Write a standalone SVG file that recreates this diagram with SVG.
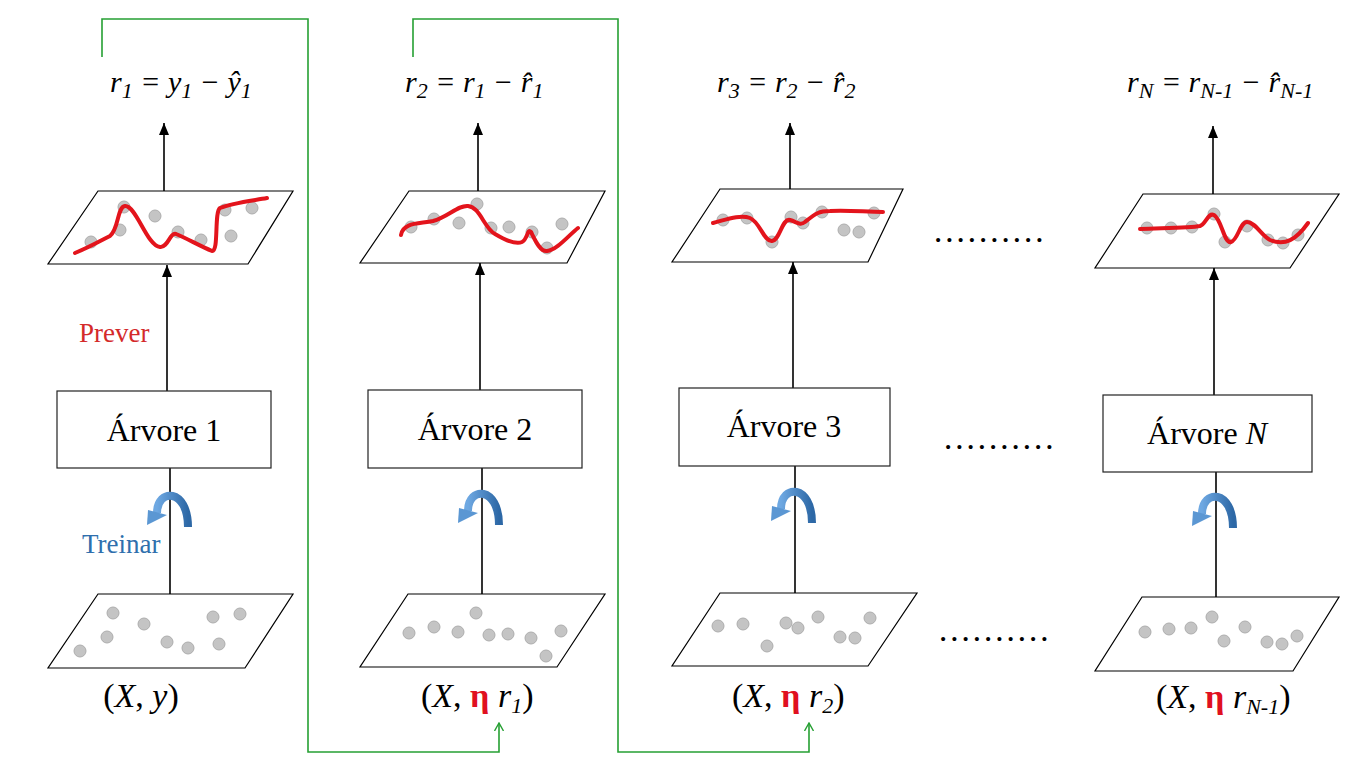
<svg xmlns="http://www.w3.org/2000/svg" width="1365" height="768" viewBox="0 0 1365 768">
<defs>
<style>
.para{fill:#fff;stroke:#000;stroke-width:1.2}
.box{fill:#fff;stroke:#222;stroke-width:1.2}
.ln{stroke:#000;stroke-width:1.6;fill:none}
.ar{stroke:#000;stroke-width:1.6;fill:none;marker-end:url(#ah)}
.dot{fill:#c4c4c4;stroke:#adadad;stroke-width:1}
.fit{fill:none;stroke:#e3141c;stroke-width:4;stroke-linecap:round;stroke-linejoin:round}
.f{font-family:"Liberation Serif","Times New Roman",serif;font-style:italic;font-size:30px;fill:#000}
.sub{font-size:22px}
.bt{font-family:"Liberation Serif","Times New Roman",serif;font-size:32px;fill:#000;text-anchor:middle}
.lbl{font-family:"Liberation Serif","Times New Roman",serif;font-size:34px;fill:#000}
.eta{font-style:normal;font-weight:bold;fill:#e01020}
.dots{font-family:"Liberation Serif",serif;font-size:25px;font-weight:bold;fill:#000;letter-spacing:5px}
.grn{stroke:#26a033;stroke-width:1.6;fill:none}
.curl{fill:none;stroke:url(#bg);stroke-width:8}
.curlh{fill:#5b97d3}
</style>
<marker id="ah" viewBox="0 0 12 10" refX="12" refY="5" markerWidth="12" markerHeight="10" markerUnits="userSpaceOnUse" orient="auto"><path d="M0,0 L12,5 L0,10 z" fill="#000"/></marker>
<marker id="gh" viewBox="0 0 9 10" refX="8" refY="5" markerWidth="9" markerHeight="10" markerUnits="userSpaceOnUse" orient="auto"><path d="M0,0.5 L8,5 L0,9.5" fill="none" stroke="#26a033" stroke-width="1.4"/></marker>
<linearGradient id="bg" x1="0" y1="0" x2="1" y2="0"><stop offset="0" stop-color="#6ea8e2"/><stop offset="1" stop-color="#2d68a6"/></linearGradient>
</defs>
<rect width="1365" height="768" fill="#fff"/>

<g id="connectors">
<line class="ln" x1="170" y1="594" x2="170" y2="468"/>
<line class="ar" x1="167" y1="391" x2="167" y2="265"/>
<line class="ar" x1="164" y1="191" x2="164" y2="123"/>
<line class="ln" x1="482" y1="594" x2="482" y2="468"/>
<line class="ar" x1="480" y1="390" x2="480" y2="263"/>
<line class="ar" x1="478" y1="191" x2="478" y2="123"/>
<line class="ln" x1="795" y1="593" x2="795" y2="466"/>
<line class="ar" x1="793" y1="388" x2="793" y2="262"/>
<line class="ar" x1="790" y1="189" x2="790" y2="123"/>
<line class="ln" x1="1216" y1="597" x2="1216" y2="472"/>
<line class="ar" x1="1214" y1="395" x2="1214" y2="268"/>
<line class="ar" x1="1213" y1="194" x2="1213" y2="126"/>
<path class="grn" d="M102,57 V19 H308 V752 H499 V723" marker-end="url(#gh)"/>
<path class="grn" d="M413,57 V19 H618 V752 H809 V723" marker-end="url(#gh)"/>
</g>

<g id="curls">
<g transform="translate(170,510)"><path class="curl" d="M18,17 C18,-22 -13,-22 -13,3"/><path class="curlh" d="M-22,0 L-3,5 L-23,15 z"/></g>
<g transform="translate(481,508)"><path class="curl" d="M18,17 C18,-22 -13,-22 -13,3"/><path class="curlh" d="M-22,0 L-3,5 L-23,15 z"/></g>
<g transform="translate(794,506)"><path class="curl" d="M18,17 C18,-22 -13,-22 -13,3"/><path class="curlh" d="M-22,0 L-3,5 L-23,15 z"/></g>
<g transform="translate(1215,511)"><path class="curl" d="M18,17 C18,-22 -13,-22 -13,3"/><path class="curlh" d="M-22,0 L-3,5 L-23,15 z"/></g>
</g>

<g id="formula1"><text class="f" x="110" y="92">r<tspan class="sub" dy="6">1</tspan><tspan dy="-6"> = y</tspan><tspan class="sub" dy="6">1</tspan><tspan dy="-6"> − ŷ</tspan><tspan class="sub" dy="6">1</tspan></text></g>
<g id="formula2"><text class="f" x="405" y="92">r<tspan class="sub" dy="6">2</tspan><tspan dy="-6"> = r</tspan><tspan class="sub" dy="6">1</tspan><tspan dy="-6"> − r̂</tspan><tspan class="sub" dy="6">1</tspan></text></g>
<g id="formula3"><text class="f" x="717" y="92">r<tspan class="sub" dy="6">3</tspan><tspan dy="-6"> = r</tspan><tspan class="sub" dy="6">2</tspan><tspan dy="-6"> − r̂</tspan><tspan class="sub" dy="6">2</tspan></text></g>
<g id="formulaN"><text class="f" x="1127" y="92">r<tspan class="sub" dy="6">N</tspan><tspan dy="-6"> = r</tspan><tspan class="sub" dy="6">N-1</tspan><tspan dy="-6"> − r̂</tspan><tspan class="sub" dy="6">N-1</tspan></text></g>

<g id="top1">
<polygon class="para" points="98,191 293,191 248,264 48,264"/>
<circle class="dot" cx="91" cy="242" r="6"/><circle class="dot" cx="124" cy="207" r="6"/><circle class="dot" cx="120" cy="230" r="6"/><circle class="dot" cx="155" cy="216" r="6"/><circle class="dot" cx="178" cy="232" r="6"/><circle class="dot" cx="201" cy="240" r="6"/><circle class="dot" cx="225" cy="210" r="6"/><circle class="dot" cx="252" cy="208" r="6"/><circle class="dot" cx="231" cy="236" r="6"/>
<path class="fit" d="M75,253 C90,247 100,241 110,236 C119,229 117,207 125,206 C136,205 147,246 160,247 C168,248 170,232 176,234 C186,238 200,246 212,251 C219,252 214,212 220,208 C232,203 250,201 267,198"/>
</g>
<g id="top2">
<polygon class="para" points="409,191 605,191 567,263 360,263"/>
<circle class="dot" cx="411" cy="227" r="6"/><circle class="dot" cx="434" cy="219" r="6"/><circle class="dot" cx="459" cy="223" r="6"/><circle class="dot" cx="477" cy="204" r="6"/><circle class="dot" cx="491" cy="228" r="6"/><circle class="dot" cx="509" cy="227" r="6"/><circle class="dot" cx="532" cy="232" r="6"/><circle class="dot" cx="562" cy="224" r="6"/><circle class="dot" cx="547" cy="248" r="6"/>
<path class="fit" d="M401,235 C403,222 420,224 433,221 C448,217 458,205 468,206 C480,207 484,228 495,234 C505,240 515,245 522,242 C528,239 527,228 531,232 C535,240 540,252 547,251 C557,250 568,236 578,228"/>
</g>
<g id="top3">
<polygon class="para" points="720,189 903,189 868,262 672,262"/>
<circle class="dot" cx="723" cy="220" r="6"/><circle class="dot" cx="747" cy="218" r="6"/><circle class="dot" cx="772" cy="242" r="6"/><circle class="dot" cx="791" cy="217" r="6"/><circle class="dot" cx="803" cy="223" r="6"/><circle class="dot" cx="822" cy="212" r="6"/><circle class="dot" cx="844" cy="230" r="6"/><circle class="dot" cx="859" cy="232" r="6"/><circle class="dot" cx="874" cy="213" r="6"/>
<path class="fit" d="M713,223 C725,220 740,214 750,218 C760,222 764,242 772,241 C780,240 782,218 790,220 C797,222 800,226 805,222 C815,214 818,211 830,211 C850,210 865,212 883,212"/>
</g>
<g id="topN">
<polygon class="para" points="1143,194 1339,194 1290,268 1095,268"/>
<circle class="dot" cx="1147" cy="228" r="6"/><circle class="dot" cx="1171" cy="228" r="6"/><circle class="dot" cx="1192" cy="227" r="6"/><circle class="dot" cx="1214" cy="214" r="6"/><circle class="dot" cx="1225" cy="242" r="6"/><circle class="dot" cx="1247" cy="226" r="6"/><circle class="dot" cx="1268" cy="240" r="6"/><circle class="dot" cx="1283" cy="243" r="6"/><circle class="dot" cx="1298" cy="235" r="6"/>
<path class="fit" d="M1140,229 C1165,228 1190,228 1200,226 C1206,224 1208,212 1214,215 C1222,220 1224,244 1231,242 C1238,240 1240,222 1247,222 C1255,222 1262,236 1270,240 C1285,246 1296,240 1308,223"/>
</g>

<g id="tree1"><rect class="box" x="57" y="391" width="214" height="77"/><text class="bt" x="164" y="441">Árvore 1</text></g>
<g id="tree2"><rect class="box" x="368" y="390" width="214" height="78"/><text class="bt" x="475" y="440">Árvore 2</text></g>
<g id="tree3"><rect class="box" x="679" y="388" width="211" height="78"/><text class="bt" x="784" y="437">Árvore 3</text></g>
<g id="treeN"><rect class="box" x="1103" y="395" width="209" height="77"/><text class="bt" x="1207" y="444">Árvore <tspan font-style="italic">N</tspan></text></g>

<g id="labels">
<text x="79" y="342" font-family="Liberation Serif, serif" font-size="27" fill="#d42a2a">Prever</text>
<text x="82" y="553" font-family="Liberation Serif, serif" font-size="27" fill="#2f6fad">Treinar</text>
<text class="dots" x="935" y="242">..........</text>
<text class="dots" x="945" y="449">..........</text>
<text class="dots" x="940" y="641">..........</text>
</g>

<g id="data1">
<polygon class="para" points="98,594 293,594 245,668 48,668"/>
<circle class="dot" cx="113" cy="613" r="6"/><circle class="dot" cx="144" cy="624" r="6"/><circle class="dot" cx="107" cy="637" r="6"/><circle class="dot" cx="80" cy="651" r="6"/><circle class="dot" cx="167" cy="642" r="6"/><circle class="dot" cx="188" cy="648" r="6"/><circle class="dot" cx="213" cy="617" r="6"/><circle class="dot" cx="240" cy="614" r="6"/><circle class="dot" cx="219" cy="644" r="6"/>
<text class="lbl" x="141" y="707" text-anchor="middle">(<tspan font-style="italic">X</tspan>, <tspan font-style="italic">y</tspan>)</text>
</g>
<g id="data2">
<polygon class="para" points="408,594 605,594 557,667 360,667"/>
<circle class="dot" cx="409" cy="633" r="6"/><circle class="dot" cx="434" cy="627" r="6"/><circle class="dot" cx="458" cy="632" r="6"/><circle class="dot" cx="476" cy="613" r="6"/><circle class="dot" cx="489" cy="635" r="6"/><circle class="dot" cx="508" cy="634" r="6"/><circle class="dot" cx="531" cy="638" r="6"/><circle class="dot" cx="561" cy="631" r="6"/><circle class="dot" cx="546" cy="656" r="6"/>
<text class="lbl" x="421" y="707">(<tspan font-style="italic">X</tspan>, <tspan class="eta">η</tspan> <tspan font-style="italic">r</tspan><tspan font-style="italic" class="sub" dy="6">1</tspan><tspan dy="-6">)</tspan></text>
</g>
<g id="data3">
<polygon class="para" points="720,593 917,593 868,666 672,666"/>
<circle class="dot" cx="718" cy="626" r="6"/><circle class="dot" cx="743" cy="624" r="6"/><circle class="dot" cx="767" cy="646" r="6"/><circle class="dot" cx="786" cy="623" r="6"/><circle class="dot" cx="798" cy="628" r="6"/><circle class="dot" cx="818" cy="617" r="6"/><circle class="dot" cx="840" cy="637" r="6"/><circle class="dot" cx="855" cy="638" r="6"/><circle class="dot" cx="870" cy="618" r="6"/>
<text class="lbl" x="732" y="707">(<tspan font-style="italic">X</tspan>, <tspan class="eta">η</tspan> <tspan font-style="italic">r</tspan><tspan font-style="italic" class="sub" dy="6">2</tspan><tspan dy="-6">)</tspan></text>
</g>
<g id="dataN">
<polygon class="para" points="1142,597 1339,597 1293,671 1095,671"/>
<circle class="dot" cx="1145" cy="632" r="6"/><circle class="dot" cx="1169" cy="629" r="6"/><circle class="dot" cx="1191" cy="628" r="6"/><circle class="dot" cx="1212" cy="617" r="6"/><circle class="dot" cx="1224" cy="641" r="6"/><circle class="dot" cx="1245" cy="627" r="6"/><circle class="dot" cx="1267" cy="642" r="6"/><circle class="dot" cx="1282" cy="644" r="6"/><circle class="dot" cx="1297" cy="636" r="6"/>
<text class="lbl" x="1156" y="708">(<tspan font-style="italic">X</tspan>, <tspan class="eta">η</tspan> <tspan font-style="italic">r</tspan><tspan font-style="italic" class="sub" dy="6">N-1</tspan><tspan dy="-6">)</tspan></text>
</g>
</svg>
